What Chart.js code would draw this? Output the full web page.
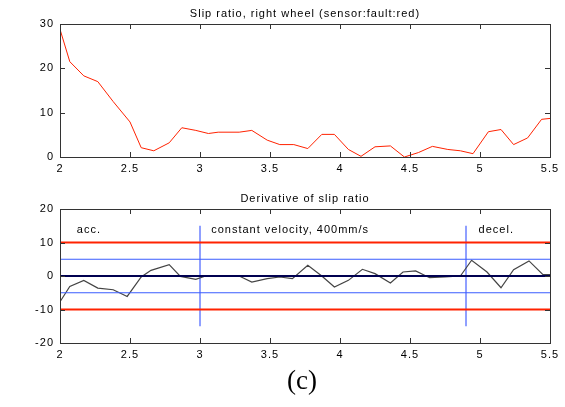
<!DOCTYPE html>
<html lang="en-US">
<head>
  <meta charset="utf-8">
  <title>Slip ratio | Chart.js</title>
  <script src="https://cdn.jsdelivr.net/npm/chart.js@4.4.1/dist/chart.umd.min.js"></script>
  <style>
    body { margin: 0; background: #fff; }
    .wrap { position: relative; width: 565px; height: 407px; }
    canvas { position: absolute; left: 0; }
    #top { top: 0; }
    #bottom { top: 180px; }
    .caption {
      position: absolute; left: 0; width: 604px; top: 365px;
      text-align: center; font-family: "Liberation Serif", serif; font-size: 27px;
    }
  </style>
</head>
<body>
  <div class="wrap">
    <canvas id="top" width="565" height="180"></canvas>
    <canvas id="bottom" width="565" height="190"></canvas>
    <div class="caption">(c)</div>
  </div>

  <script>
    // top plot: slip ratio
    let slipX = [2, 2.07, 2.17, 2.27, 2.38, 2.5, 2.58, 2.67, 2.78, 2.87, 2.97, 3.06, 3.13, 3.28, 3.37,
                 3.48, 3.57, 3.67, 3.77, 3.87, 3.96, 4.06, 4.15, 4.25, 4.36, 4.46, 4.56, 4.66, 4.77,
                 4.86, 4.95, 5.06, 5.15, 5.24, 5.34, 5.44, 5.5];
    let slipY = [28.8, 21.5, 18.3, 17, 12.5, 7.9, 2.1, 1.4, 3.2, 6.6, 6.0, 5.3, 5.6, 5.6, 6.0,
                 3.8, 2.8, 2.8, 1.9, 5.1, 5.1, 1.7, 0.15, 2.3, 2.5, 0, 1.0, 2.4, 1.7,
                 1.4, 0.75, 5.7, 6.2, 2.8, 4.3, 8.5, 8.7];

    // bottom plot: derivative of slip ratio
    let derivX = [2, 2.07, 2.17, 2.27, 2.38, 2.48, 2.58, 2.65, 2.78, 2.86, 2.97, 3.04, 3.16, 3.28, 3.37,
                  3.48, 3.57, 3.66, 3.77, 3.87, 3.96, 4.06, 4.16, 4.25, 4.36, 4.45, 4.54, 4.64, 4.75,
                  4.86, 4.94, 5.05, 5.15, 5.24, 5.35, 5.45, 5.5];
    let derivY = [-7.7, -3.1, -1.3, -3.6, -4.1, -6.1, -0.3, 1.7, 3.4, -0.1, -1.0, 0, 0, 0, -1.8,
                  -0.8, -0.3, -0.8, 3.2, 0, -3.3, -1.3, 2.0, 0.7, -2.1, 1.2, 1.5, -0.5, -0.3,
                  0, 4.7, 1.2, -3.5, 1.9, 4.5, 0.4, 0.4];

    let xRange = [2, 5.5];
    let outerLimit = 10;
    let innerLimit = 5;
    let phaseBreaks = [3, 4.9];
    let phaseSpan = [-15, 15];
    let phaseLabels = [
      {x: 2.12, y: 13.8, text: 'acc.'},
      {x: 3.08, y: 13.8, text: 'constant velocity, 400mm/s'},
      {x: 4.99, y: 13.8, text: 'decel.'}
    ];

    let font = '"Liberation Sans", Arial, sans-serif';

    function pts(xs, ys) {
      return xs.map((x, i) => ({x: x, y: ys[i]}));
    }

    function hline(v, color, width) {
      return {data: [{x: xRange[0], y: v}, {x: xRange[1], y: v}], borderColor: color,
              borderWidth: width, pointRadius: 0};
    }

    // MATLAB style box with inward ticks plus the plot title
    let boxPlugin = {
      id: 'box',
      beforeDraw(chart) {
        // the source figure has wide-set lettering
        chart.ctx.letterSpacing = '1px';
      },
      afterDraw(chart, args, opts) {
        let ctx = chart.ctx, a = chart.chartArea;
        let x = chart.scales.x, y = chart.scales.y;
        ctx.save();
        ctx.strokeStyle = '#333';
        ctx.lineWidth = 1;
        ctx.strokeRect(Math.round(a.left) + 0.5, Math.round(a.top) + 0.5,
                       Math.round(a.width), Math.round(a.height));
        ctx.beginPath();
        x.ticks.forEach(t => {
          let px = Math.round(x.getPixelForValue(t.value)) + 0.5;
          ctx.moveTo(px, a.top); ctx.lineTo(px, a.top + 5);
          ctx.moveTo(px, a.bottom); ctx.lineTo(px, a.bottom - 5);
        });
        y.ticks.forEach(t => {
          let py = Math.round(y.getPixelForValue(t.value)) + 0.5;
          ctx.moveTo(a.left, py); ctx.lineTo(a.left + 5, py);
          ctx.moveTo(a.right, py); ctx.lineTo(a.right - 5, py);
        });
        ctx.stroke();

        ctx.fillStyle = '#000';
        ctx.font = '11px ' + font;
        ctx.textAlign = 'center';
        ctx.textBaseline = 'alphabetic';
        ctx.fillText(opts.title, (a.left + a.right) / 2, a.top - 7);

        if (opts.notes) {
          ctx.textAlign = 'left';
          ctx.textBaseline = 'middle';
          opts.notes.forEach(n => {
            ctx.fillText(n.text, x.getPixelForValue(n.x), y.getPixelForValue(n.y));
          });
        }
        ctx.restore();
      }
    };

    function axes(yMin, yMax, yStep, xHeight) {
      return {
        x: {
          type: 'linear', min: xRange[0], max: xRange[1],
          grid: {display: false, drawTicks: false}, border: {display: false},
          ticks: {stepSize: 0.5, color: '#000', padding: 5, font: {family: font, size: 11},
                  maxRotation: 0, callback: v => String(v)},
          afterFit: s => { s.height = xHeight; }
        },
        y: {
          min: yMin, max: yMax,
          grid: {display: false, drawTicks: false}, border: {display: false},
          ticks: {stepSize: yStep, color: '#000', padding: 6, font: {family: font, size: 11}},
          afterFit: s => { s.width = 60; }
        }
      };
    }

    new Chart('top', {
      type: 'line',
      data: {
        datasets: [{data: pts(slipX, slipY), borderColor: '#ff2200', borderWidth: 1, pointRadius: 0}]
      },
      options: {
        responsive: false, animation: false,
        layout: {padding: {top: 24, right: 15, left: 0, bottom: 0}},
        scales: axes(0, 30, 10, 23),
        plugins: {
          legend: {display: false}, tooltip: {enabled: false},
          box: {title: 'Slip ratio, right wheel (sensor:fault:red)'}
        }
      },
      plugins: [boxPlugin]
    });

    new Chart('bottom', {
      type: 'line',
      data: {
        datasets: [
          hline(outerLimit, '#ff2200', 2),
          hline(-outerLimit, '#ff2200', 2),
          hline(innerLimit, '#3a5cff', 1),
          hline(-innerLimit, '#3a5cff', 1),
          hline(0, '#000050', 2),
          {data: pts(derivX, derivY), borderColor: '#444', borderWidth: 1.2, pointRadius: 0},
          {data: [{x: phaseBreaks[0], y: phaseSpan[0]}, {x: phaseBreaks[0], y: phaseSpan[1]}],
           borderColor: '#2040ff', borderWidth: 1, pointRadius: 0},
          {data: [{x: phaseBreaks[1], y: phaseSpan[0]}, {x: phaseBreaks[1], y: phaseSpan[1]}],
           borderColor: '#2040ff', borderWidth: 1, pointRadius: 0}
        ]
      },
      options: {
        responsive: false, animation: false,
        layout: {padding: {top: 29, right: 15, left: 0, bottom: 0}},
        scales: axes(-20, 20, 10, 27),
        plugins: {
          legend: {display: false}, tooltip: {enabled: false},
          box: {title: 'Derivative of slip ratio', notes: phaseLabels}
        }
      },
      plugins: [boxPlugin]
    });
  </script>
</body>
</html>
